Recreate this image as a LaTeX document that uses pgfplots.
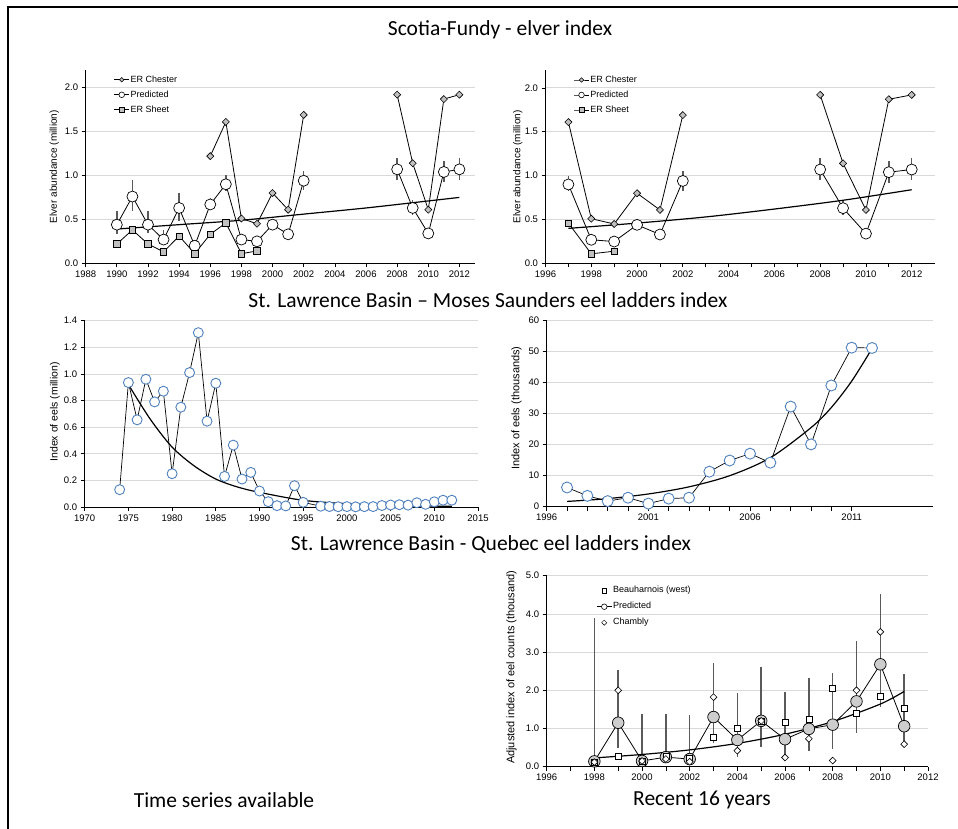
\documentclass[border=0pt]{standalone}
\usepackage{fontspec}
\setmainfont{Liberation Sans}
\newfontfamily\calib{Carlito}
\usepackage{pgfplots}
\usepackage{pgfplotstable}
\pgfplotsset{compat=1.18}

\definecolor{eblue}{RGB}{79,129,189}
\definecolor{mgray}{RGB}{192,192,192}
\definecolor{pgray}{RGB}{205,205,205}
\definecolor{gridc}{RGB}{217,217,217}
\definecolor{ebar}{RGB}{90,90,90}

% ---------- Scotia-Fundy data ----------
\pgfplotstableread{
x y ep em
1990 0.44 0.15 0.11
1991 0.76 0.19 0.16
1992 0.44 0.15 0.10
1993 0.27 0.11 0.06
1994 0.63 0.17 0.15
1995 0.20 0.07 0.05
1996 0.67 0.07 0.06
1997 0.90 0.10 0.08
1998 0.27 0.03 0.03
1999 0.25 0.03 0.03
2000 0.44 0.07 0.06
2001 0.33 0.05 0.03
2002 0.94 0.11 0.11
}\predA
\pgfplotstableread{
x y ep em
1997 0.90 0.10 0.08
1998 0.27 0.03 0.03
1999 0.25 0.03 0.03
2000 0.44 0.07 0.06
2001 0.33 0.05 0.03
2002 0.94 0.11 0.11
}\predAr
\pgfplotstableread{
x y ep em
2008 1.07 0.13 0.12
2009 0.63 0.09 0.08
2010 0.34 0.04 0.04
2011 1.04 0.13 0.12
2012 1.07 0.13 0.12
}\predB
\pgfplotstableread{
x y
1996 1.22
1997 1.61
1998 0.51
1999 0.45
2000 0.80
2001 0.61
2002 1.69
}\chesA
\pgfplotstableread{
x y
1997 1.61
1998 0.51
1999 0.45
2000 0.80
2001 0.61
2002 1.69
}\chesAr
\pgfplotstableread{
x y
2008 1.92
2009 1.14
2010 0.61
2011 1.87
2012 1.92
}\chesB
\pgfplotstableread{
x y
1990 0.22
1991 0.38
1992 0.22
1993 0.13
1994 0.31
1995 0.11
1996 0.33
1997 0.46
1998 0.11
1999 0.14
}\sheet
\pgfplotstableread{
x y
1997 0.46
1998 0.11
1999 0.14
}\sheetr

% ---------- Moses Saunders ----------
\pgfplotstableread{
x y
1974 0.13
1975 0.935
1976 0.655
1977 0.96
1978 0.79
1979 0.87
1980 0.25
1981 0.75
1982 1.01
1983 1.31
1984 0.645
1985 0.93
1986 0.23
1987 0.465
1988 0.21
1989 0.26
1990 0.12
1991 0.04
1992 0.01
1993 0.008
1994 0.16
1995 0.035
1997 0.006
1998 0.0035
1999 0.002
2000 0.003
2001 0.001
2002 0.0025
2003 0.003
2004 0.011
2005 0.015
2006 0.017
2007 0.014
2008 0.032
2009 0.020
2010 0.039
2011 0.051
2012 0.051
}\moses
\pgfplotstableread{
x y
1997 6.2
1998 3.5
1999 1.8
2000 2.9
2001 1.0
2002 2.6
2003 2.9
2004 11.3
2005 14.9
2006 17.1
2007 14.2
2008 32.3
2009 20.1
2010 39.1
2011 51.3
2012 51.2
}\mosesK

% ---------- Quebec ----------
\pgfplotstableread{
x y ep em
1998 0.14 3.76 0.09
1999 1.15 1.37 0.65
2000 0.15 1.23 0.10
2001 0.25 1.13 0.15
2002 0.20 1.15 0.12
2003 1.30 1.42 0.68
2004 0.70 1.23 0.45
2005 1.20 1.40 0.68
2006 0.72 1.23 0.42
2007 0.99 1.33 0.59
2008 1.10 1.35 0.63
2009 1.71 1.57 0.84
2010 2.68 1.84 1.11
2011 1.06 1.36 0.46
}\qpred
\pgfplotstableread{
x y
1998 0.12
1999 0.26
2000 0.15
2001 0.28
2002 0.23
2003 0.76
2004 1.00
2005 1.20
2006 1.17
2007 1.24
2008 2.04
2009 1.41
2010 1.85
2011 1.52
}\beau
\pgfplotstableread{
x y
1998 0.12
1999 2.00
2000 0.15
2001 0.20
2002 0.13
2003 1.82
2004 0.42
2005 1.20
2006 0.24
2007 0.73
2008 0.16
2009 2.00
2010 3.53
2011 0.59
}\chambly

\pgfplotsset{
  panel/.style={
    scale only axis,
    axis lines=left,
    axis line style={-, black, line width=0.9pt},
    tick align=outside,
    major tick length=4pt, minor tick length=4pt,
    tick style={black, line width=0.7pt},
    ymajorgrids,
    major grid style={gridc, line width=0.8pt},
    ticklabel style={font=\fontsize{9.5}{11}\selectfont, black},
    /pgf/number format/assume math mode=true,
    xticklabel style={/pgf/number format/1000 sep=},
    ylabel style={font=\fontsize{10}{12}\selectfont, anchor=center},
    clip=false,
    legend cell align=left,
    legend style={draw=none, fill=none, inner sep=0pt, anchor=north west,
      font=\fontsize{9}{10}\selectfont, row sep=4.5pt,
      nodes={inner sep=1pt, text height=6.5pt, text depth=2pt}},
    legend image code/.code={\draw[mark repeat=2,mark phase=2,##1] plot coordinates {(0pt,0pt) (7.5pt,0pt) (15pt,0pt)};},
  },
  onedec/.style={yticklabel style={/pgf/number format/.cd, fixed, fixed zerofill, precision=1}},
  chester/.style={black, line width=0.8pt, mark=square*, mark size=2.5pt, mark options={rotate=45, fill=mgray, draw=black, line width=0.6pt}},
  pred/.style={black, line width=0.8pt, mark=*, mark size=5.5pt, mark options={fill=white, draw=black, line width=0.7pt},
     error bars/y dir=both, error bars/y explicit, error bars/error mark=none,
     error bars/error bar style={ebar, line width=1.4pt}},
  sheetst/.style={black, line width=0.8pt, mark=square*, mark size=3.2pt, mark options={fill=mgray, draw=black, line width=0.6pt}},
  trend/.style={black, line width=1.2pt, smooth, no marks},
  bluec/.style={black, line width=0.7pt, mark=*, mark size=5pt, mark options={fill=white, draw=eblue, line width=0.9pt}},
}

\begin{document}
\begin{tikzpicture}[x=1pt,y=1pt]
\useasboundingbox (0,0) rectangle (958,829);
\draw[line width=2pt] (8.3,0) -- (8.3,822.3) -- (958,822.3);

\node[font=\calib\fontsize{21.5}{24}\selectfont] at (500,799) {Scotia-Fundy - elver index};
\node[font=\calib\fontsize{21.5}{24}\selectfont] at (488,529) {St. Lawrence Basin – Moses Saunders eel ladders index};
\node[font=\calib\fontsize{21.5}{24}\selectfont] at (491,285) {St. Lawrence Basin - Quebec eel ladders index};
\node[font=\calib\fontsize{21.5}{24}\selectfont] at (224,29) {Time series available};
\node[font=\calib\fontsize{21.5}{24}\selectfont] at (702,29) {Recent 16 years};

% ---- Panel 1 ----
\begin{axis}[panel, onedec, at={(85.7pt,565.7pt)}, anchor=south west,
  width=389.3pt, height=193.2pt,
  xmin=1988, xmax=2013, ymin=0, ymax=2.2,
  xtick={1988,1990,...,2012}, minor x tick num=1,
  ytick={0,0.5,1,1.5,2},
  ylabel={Elver abundance (million)},
  ylabel style={at={(axis description cs:-0.081,0.5)}},
  legend style={at={(axis description cs:0.072,0.978)}}]
\addplot[forget plot, chester] table {\chesA};
\addplot[forget plot, chester] table {\chesB};
\addplot[forget plot, pred] table[x=x, y=y, y error plus=ep, y error minus=em] {\predA};
\addplot[forget plot, pred] table[x=x, y=y, y error plus=ep, y error minus=em] {\predB};
\addplot[forget plot, sheetst] table {\sheet};
\addplot[forget plot, trend] coordinates {(1990,0.39) (1994,0.44) (1998,0.49) (2002,0.56) (2006,0.63) (2010,0.71) (2012,0.75)};
\addlegendimage{black, line width=0.6pt, mark=square*, mark size=1.6pt, mark options={rotate=45, fill=mgray, draw=black}}
\addlegendentry{ER Chester}
\addlegendimage{black, line width=0.6pt, mark=*, mark size=2.8pt, mark options={fill=white, draw=black}}
\addlegendentry{Predicted}
\addlegendimage{black, line width=0.6pt, mark=square*, mark size=2.3pt, mark options={fill=mgray, draw=black}}
\addlegendentry{ER Sheet}
\end{axis}

% ---- Panel 2 ----
\begin{axis}[panel, onedec, at={(545.5pt,565.5pt)}, anchor=south west,
  width=389.1pt, height=193.2pt,
  xmin=1996, xmax=2013, ymin=0, ymax=2.2,
  xtick={1996,1998,...,2012}, minor x tick num=1,
  ytick={0,0.5,1,1.5,2},
  ylabel={Elver abundance (million)},
  ylabel style={at={(axis description cs:-0.071,0.5)}},
  legend style={at={(axis description cs:0.072,0.978)}}]
\addplot[forget plot, chester] table {\chesAr};
\addplot[forget plot, chester] table {\chesB};
\addplot[forget plot, pred] table[x=x, y=y, y error plus=ep, y error minus=em] {\predAr};
\addplot[forget plot, pred] table[x=x, y=y, y error plus=ep, y error minus=em] {\predB};
\addplot[forget plot, sheetst] table {\sheetr};
\addplot[forget plot, trend] coordinates {(1997,0.40) (2000,0.46) (2003,0.53) (2006,0.62) (2009,0.72) (2012,0.84)};
\addlegendimage{black, line width=0.6pt, mark=square*, mark size=1.6pt, mark options={rotate=45, fill=mgray, draw=black}}
\addlegendentry{ER Chester}
\addlegendimage{black, line width=0.6pt, mark=*, mark size=2.8pt, mark options={fill=white, draw=black}}
\addlegendentry{Predicted}
\addlegendimage{black, line width=0.6pt, mark=square*, mark size=2.3pt, mark options={fill=mgray, draw=black}}
\addlegendentry{ER Sheet}
\end{axis}

% ---- Panel 3 ----
\begin{axis}[panel, onedec, at={(84.7pt,322pt)}, anchor=south west,
  width=393.3pt, height=186.3pt,
  xmin=1970, xmax=2015, ymin=0, ymax=1.4,
  xtick={1970,1975,...,2015},
  ytick={0,0.2,0.4,0.6,0.8,1.0,1.2,1.4},
  ylabel={Index of eels (million)},
  ylabel style={at={(axis description cs:-0.0755,0.51)}, font=\fontsize{10.5}{12}\selectfont}]
\addplot[bluec] table {\moses};
\addplot[trend] coordinates {(1975,0.92) (1977.5,0.66) (1980,0.45) (1982.5,0.31) (1985,0.21) (1987.5,0.15) (1990,0.11) (1995,0.05) (2000,0.025) (2005,0.012) (2012,0.005)};
\addplot[trend] coordinates {(1997,0.0017) (2000,0.003) (2003,0.0063) (2006,0.013) (2009,0.026) (2011,0.041) (2012,0.051)};
\end{axis}

% ---- Panel 4 ----
\begin{axis}[panel, at={(546.7pt,322.3pt)}, anchor=south west,
  width=386.3pt, height=186pt,
  xmin=1996, xmax=2015, ymin=0, ymax=60,
  xtick={1996,2001,2006,2011}, minor x tick num=4,
  ytick={0,10,...,60},
  ylabel={Index of eels (thousands)},
  ylabel style={at={(axis description cs:-0.078,0.53)}, font=\fontsize{11}{13}\selectfont}]
\addplot[bluec, mark size=5.5pt] table {\mosesK};
\addplot[trend] coordinates {(1997,1.7) (1999,2.6) (2001,4.1) (2003,6.4) (2005,10.0) (2007,15.8) (2009,25.5) (2010,32) (2011,40.5) (2012,51)};
\end{axis}

% ---- Panel 5 ----
\begin{axis}[panel, onedec, at={(546.7pt,62.3pt)}, anchor=south west,
  width=381.3pt, height=191pt,
  xmin=1996, xmax=2012, ymin=0, ymax=5,
  xtick={1996,1998,...,2012}, minor x tick num=1,
  ytick={0,1,2,3,4,5},
  ylabel={Adjusted index of eel counts (thousand)},
  ylabel style={at={(axis description cs:-0.092,0.52)}, font=\fontsize{11}{13}\selectfont},
  legend style={at={(axis description cs:0.13,0.95)}, row sep=5.5pt}]
\addplot[forget plot, black, line width=0.8pt, mark=*, mark size=5.8pt, mark options={fill=pgray, draw=black, line width=0.7pt},
  error bars/y dir=both, error bars/y explicit, error bars/error mark=none, error bars/error bar style={ebar, line width=1.6pt}]
  table[x=x, y=y, y error plus=ep, y error minus=em] {\qpred};
\addplot[forget plot, only marks, mark=square*, mark size=3pt, mark options={fill=white, draw=black, line width=0.6pt}] table {\beau};
\addplot[forget plot, only marks, mark=square*, mark size=2.4pt, mark options={rotate=45, fill=white, draw=black, line width=0.6pt}] table {\chambly};
\addplot[forget plot, trend] coordinates {(1998,0.23) (2000,0.32) (2002,0.44) (2004,0.61) (2006,0.85) (2008,1.18) (2010,1.64) (2011,1.97)};
\addlegendimage{only marks, mark=square*, mark size=2.3pt, mark options={fill=white, draw=black}}
\addlegendentry{Beauharnois (west)}
\addlegendimage{black, line width=0.6pt, mark=*, mark size=2.8pt, mark options={fill=white, draw=black}}
\addlegendentry{Predicted}
\addlegendimage{only marks, mark=square*, mark size=1.8pt, mark options={rotate=45, fill=white, draw=black}}
\addlegendentry{Chambly}
\end{axis}
\end{tikzpicture}
\end{document}
